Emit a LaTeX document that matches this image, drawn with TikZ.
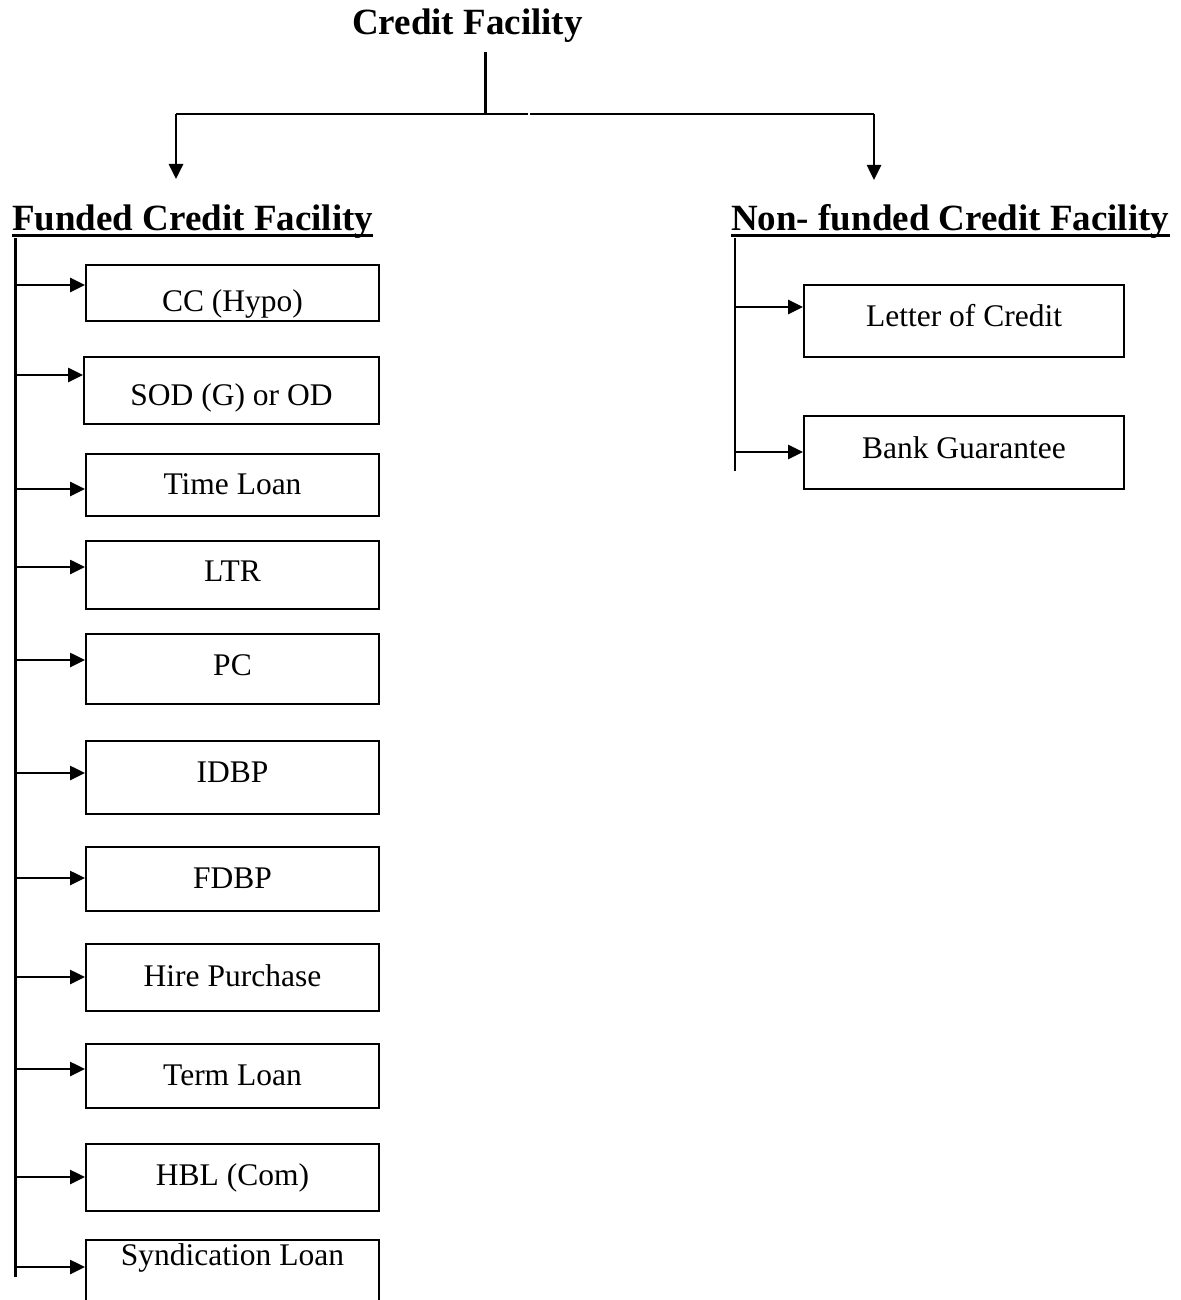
\documentclass[tikz,border=0pt]{standalone}
\usepackage{fontspec}
\setmainfont{Liberation Serif}
\usetikzlibrary{arrows.meta}
\begin{document}
\begin{tikzpicture}[x=1pt,y=-1pt,
  wire/.style={line width=2.6pt},
  arr/.style={wire,-{Triangle[length=15pt,width=14pt]}},
  box/.style={draw,line width=2pt,inner sep=0pt,minimum width=293pt,
    text height=21pt,text depth=0pt,font=\fontsize{31.5}{38}\selectfont},
  heading/.style={inner sep=0pt,anchor=base west,
    font=\fontsize{37}{44}\selectfont\bfseries},
  rule/.style={line width=3.2pt}]

\path[use as bounding box, clip] (0,0) rectangle (1180,1300);

% headings
\node[heading] (root) at (352,35)  {Credit Facility};
\node[heading] (fund) at (12,230)  {Funded Credit Facility};
\node[heading] (nonf) at (731,230) {Non- funded Credit Facility};
\draw[rule] ([yshift=-5.5pt]fund.base west) -- ([yshift=-5.5pt]fund.base east);
\draw[rule] ([yshift=-5.5pt]nonf.base west) -- ([yshift=-5.5pt]nonf.base east);

% split from the root into the two families
\coordinate (rtop) at (485.5,52);
\coordinate (rj)   at (485.5,114);
\coordinate (lc)   at (176,114);
\coordinate (gl)   at (528,114);
\coordinate (gr)   at (530,114);
\coordinate (rc)   at (874,114);
\coordinate (la)   at (176,179);
\coordinate (ra)   at (874,180);
\draw[wire] (rtop) -- (rj);
\draw[wire] (gl) -- (lc);
\draw[arr] (lc) -- (la);
\draw[wire] (gr) -- (rc);
\draw[arr] (rc) -- (ra);

% funded facilities
\node[box,minimum height=56] (cc)    at (232.5,293)    {\raisebox{-8pt}{CC (Hypo)}};
\node[box,minimum height=67,minimum width=295] (sod) at (231.5,390.5) {\raisebox{-4.5pt}{SOD (G) or OD}};
\node[box,minimum height=62] (time)  at (232.5,485)    {\raisebox{1pt}{Time Loan}};
\node[box,minimum height=68] (ltr)   at (232.5,575)    {\raisebox{4pt}{LTR}};
\node[box,minimum height=70] (pc)    at (232.5,669)    {\raisebox{4pt}{PC}};
\node[box,minimum height=73] (idbp)  at (232.5,777.5)  {\raisebox{5.5pt}{IDBP}};
\node[box,minimum height=64] (fdbp)  at (232.5,879)    {\raisebox{1pt}{FDBP}};
\node[box,minimum height=67] (hire)  at (232.5,977.5)  {\raisebox{1.5pt}{Hire Purchase}};
\node[box,minimum height=64] (term)  at (232.5,1076)   {\raisebox{1pt}{Term Loan}};
\node[box,minimum height=67] (hbl)   at (232.5,1177.5) {\raisebox{2.5pt}{HBL (Com)}};
\node[box,minimum height=70] (synd)  at (232.5,1275)   {\raisebox{20pt}{Syndication Loan}};

\coordinate (ftop) at (15.5,238);
\coordinate (fbot) at (15.5,1277);
\draw[wire] (ftop) -- (fbot);
\foreach \n/\y in {cc/285,sod/375,time/489,ltr/567,pc/660,idbp/773,
                   fdbp/878,hire/977,term/1069,hbl/1177,synd/1267}{
  \coordinate (t-\n) at (15.5,\y);
  \draw[arr] (t-\n) -- (t-\n -| \n.west);
}

% non-funded facilities
\node[box,minimum width=320,minimum height=72] (loc) at (964,321)   {\raisebox{5pt}{Letter of Credit}};
\node[box,minimum width=320,minimum height=73] (bg)  at (964,452.5) {\raisebox{5pt}{Bank Guarantee}};

\coordinate (ntop) at (735,238);
\coordinate (nbot) at (735,471);
\draw[wire] (ntop) -- (nbot);
\foreach \n/\y in {loc/307,bg/452}{
  \coordinate (t-\n) at (735,\y);
  \draw[arr] (t-\n) -- (t-\n -| \n.west);
}
\end{tikzpicture}
\end{document}
